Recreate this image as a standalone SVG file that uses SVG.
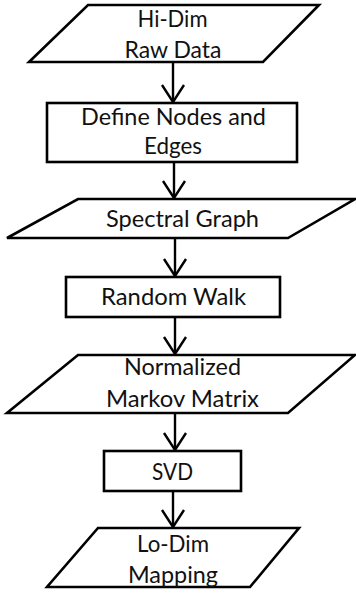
<svg xmlns="http://www.w3.org/2000/svg" width="356" height="593" viewBox="0 0 356 593">
<defs>
<style>
.shape{fill:#fff;stroke:#000;stroke-width:2.6;stroke-linejoin:miter}
.edge{fill:none;stroke:#000;stroke-width:2.4}
text{font-family:Lato,"Open Sans","Liberation Sans",sans-serif;font-size:24px;fill:#111;text-anchor:middle}
</style>
<marker id="arr" viewBox="0 0 20 26" refX="18" refY="13" markerWidth="20" markerHeight="26" markerUnits="userSpaceOnUse" orient="auto">
<path d="M1,2 L18,13 L1,24" fill="none" stroke="#000" stroke-width="2.4"/>
</marker>
</defs>
<rect width="356" height="593" fill="#fff"/>
<g id="connectors">
<line class="edge" x1="173" y1="62" x2="173" y2="102" marker-end="url(#arr)"/>
<line class="edge" x1="174" y1="162" x2="174" y2="198" marker-end="url(#arr)"/>
<line class="edge" x1="175" y1="238" x2="175" y2="276" marker-end="url(#arr)"/>
<line class="edge" x1="175" y1="317" x2="175" y2="354" marker-end="url(#arr)"/>
<line class="edge" x1="175" y1="413" x2="175" y2="450" marker-end="url(#arr)"/>
<line class="edge" x1="173" y1="491" x2="173" y2="527" marker-end="url(#arr)"/>
</g>
<g id="n1">
<polygon class="shape" points="88,5 319,5 263,62 29,62"/>
<text x="172.5" y="27" textLength="70" lengthAdjust="spacingAndGlyphs">Hi-Dim</text>
<text x="173" y="58" textLength="97" lengthAdjust="spacingAndGlyphs">Raw Data</text>
</g>
<g id="n2">
<rect class="shape" x="47" y="103" width="250" height="59"/>
<text x="173.5" y="125" textLength="185" lengthAdjust="spacingAndGlyphs">Define Nodes and</text>
<text x="173" y="154" textLength="58" lengthAdjust="spacingAndGlyphs">Edges</text>
</g>
<g id="n3">
<polygon class="shape" points="78,199 355,199 288,238 7,238"/>
<text x="182.5" y="227" textLength="153" lengthAdjust="spacingAndGlyphs">Spectral Graph</text>
</g>
<g id="n4">
<rect class="shape" x="66" y="277" width="214" height="40"/>
<text x="173.5" y="305" textLength="145" lengthAdjust="spacingAndGlyphs">Random Walk</text>
</g>
<g id="n5">
<polygon class="shape" points="78,355 355,355 288,413 7,413"/>
<text x="182.5" y="375" textLength="117" lengthAdjust="spacingAndGlyphs">Normalized</text>
<text x="182.5" y="407" textLength="153" lengthAdjust="spacingAndGlyphs">Markov Matrix</text>
</g>
<g id="n6">
<rect class="shape" x="104" y="451" width="137" height="40"/>
<text x="172.5" y="480" textLength="41" lengthAdjust="spacingAndGlyphs">SVD</text>
</g>
<g id="n7">
<polygon class="shape" points="98,528 299,528 250,587 47,587"/>
<text x="173" y="552" textLength="72" lengthAdjust="spacingAndGlyphs">Lo-Dim</text>
<text x="173" y="583" textLength="90" lengthAdjust="spacingAndGlyphs">Mapping</text>
</g>
</svg>
